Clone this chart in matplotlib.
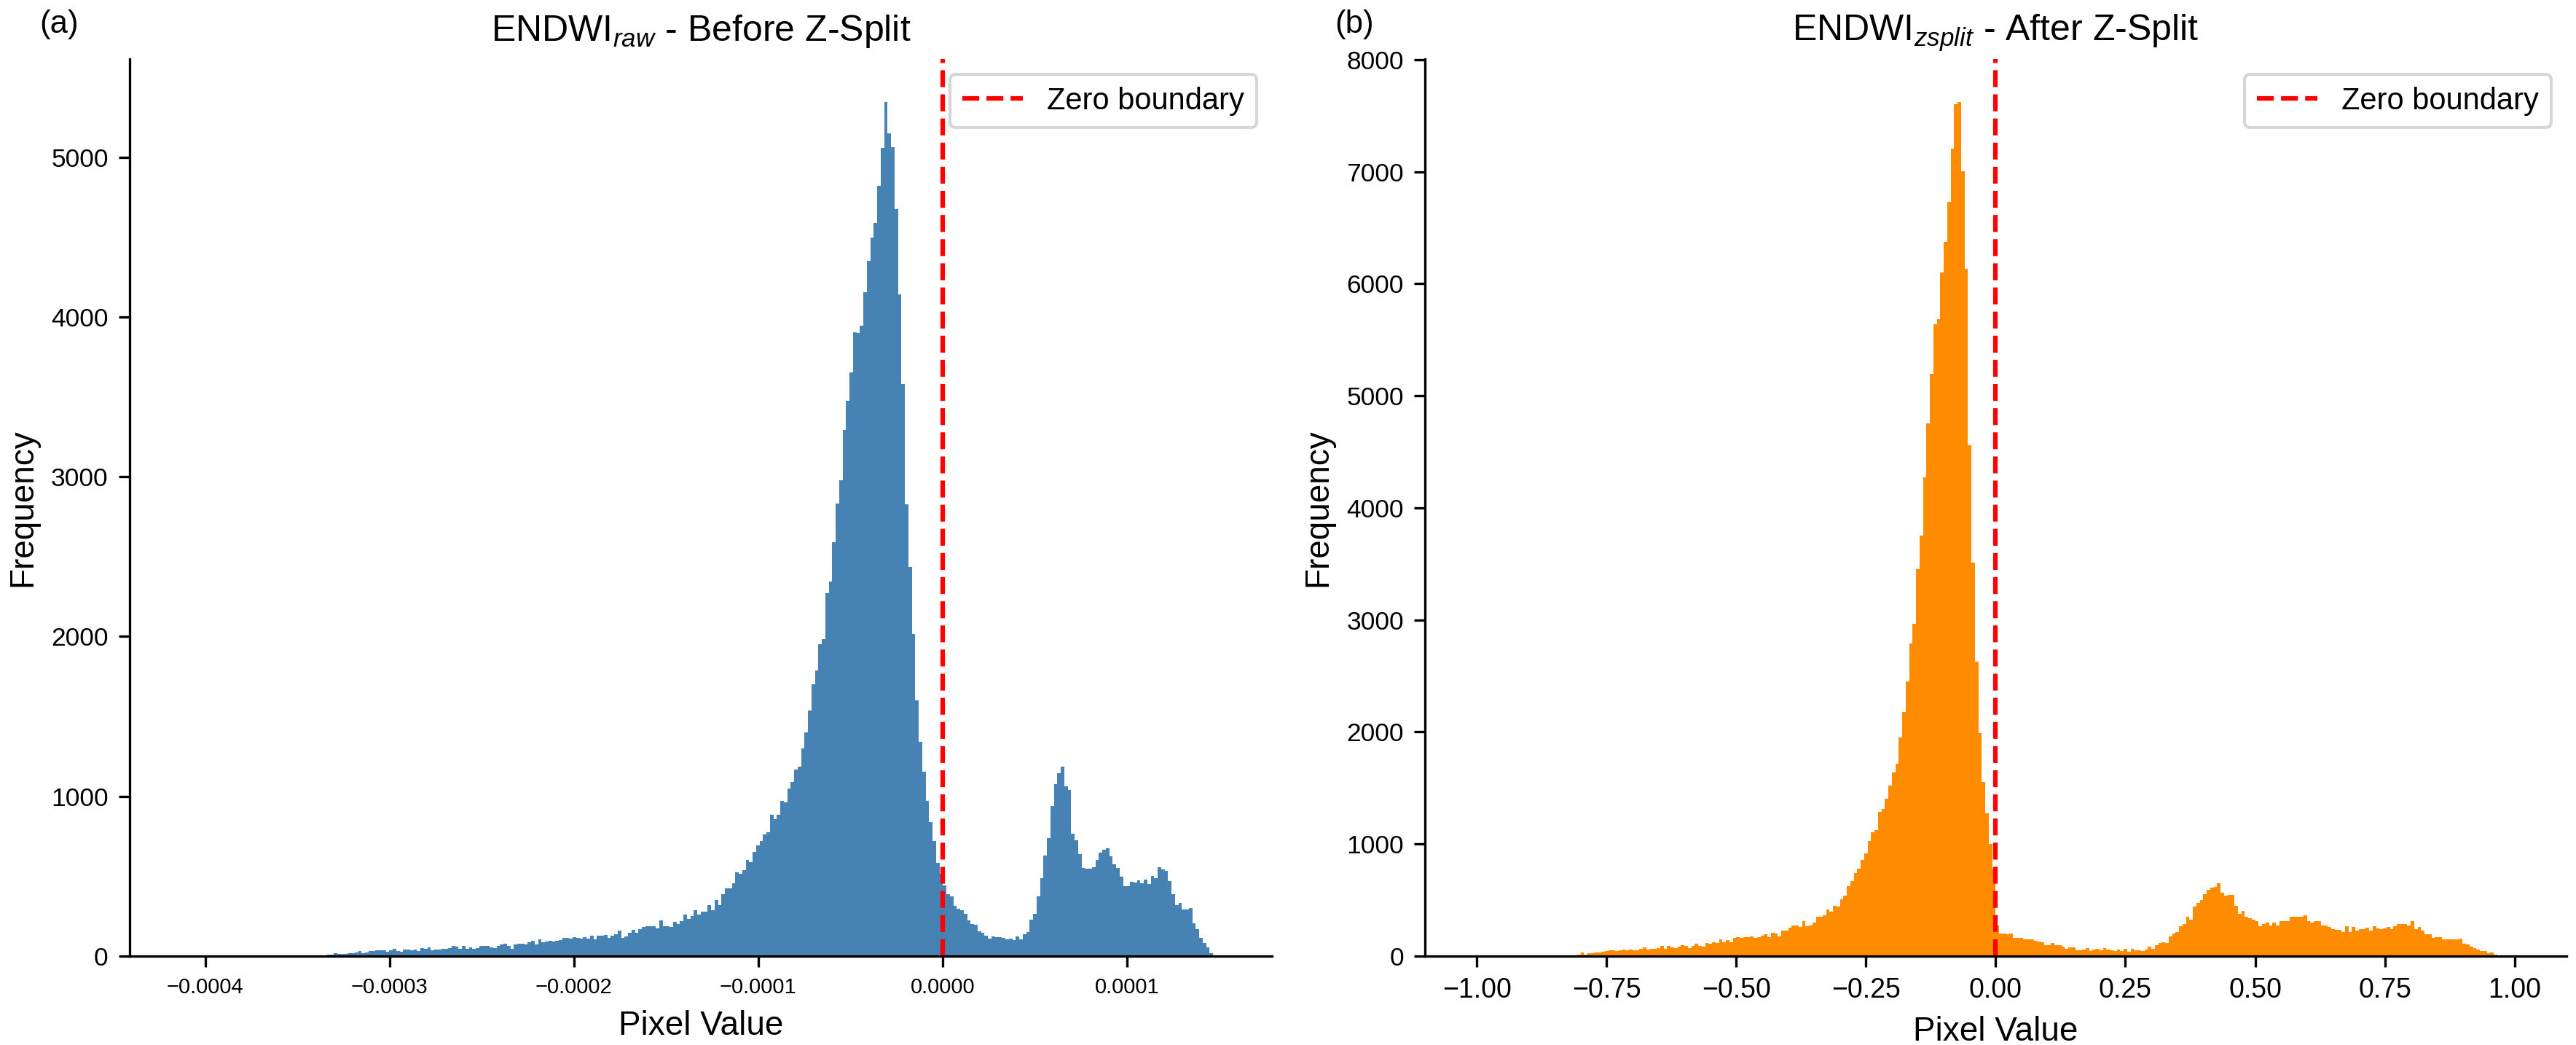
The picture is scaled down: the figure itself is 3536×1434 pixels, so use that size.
import numpy as np
import matplotlib
matplotlib.use("Agg")
import matplotlib.pyplot as plt

plt.rcParams['font.family'] = ['Liberation Sans', 'DejaVu Sans']
plt.rcParams['mathtext.fontset'] = 'custom'
plt.rcParams['mathtext.rm'] = 'Liberation Sans'
plt.rcParams['mathtext.it'] = 'Liberation Sans:italic'

# histogram bins (300 equal bins over the value range)
n_bins = 300
raw_range = (-4.128e-4, 1.505e-4)
zsplit_range = (-1.0, 1.0)

# counts per bin
raw_counts = [
    1, 0, 0, 0, 0, 0, 0, 0, 0, 0,
    0, 0, 0, 0, 0, 0, 0, 0, 0, 0,
    0, 0, 0, 0, 0, 0, 0, 0, 0, 0,
    0, 0, 0, 0, 0, 0, 0, 0, 2, 3,
    3, 3, 8, 8, 17, 12, 12, 12, 17, 17,
    21, 30, 17, 21, 30, 30, 35, 35, 35, 26,
    35, 44, 30, 26, 40, 40, 35, 40, 30, 49,
    44, 53, 35, 40, 40, 44, 44, 49, 62, 58,
    44, 62, 44, 53, 44, 49, 62, 62, 62, 53,
    49, 62, 71, 76, 62, 44, 71, 76, 76, 71,
    85, 94, 71, 103, 85, 90, 94, 90, 94, 99,
    112, 112, 108, 117, 112, 108, 117, 108, 126, 103,
    126, 126, 131, 112, 126, 135, 158, 112, 122, 144,
    163, 144, 167, 181, 185, 185, 185, 171, 223, 185,
    188, 181, 213, 202, 220, 262, 234, 251, 286, 258,
    279, 279, 321, 286, 352, 321, 387, 426, 426, 457,
    523, 516, 537, 604, 590, 653, 694, 722, 761, 775,
    886, 858, 886, 970, 960, 1050, 1089, 1169, 1187, 1298,
    1399, 1536, 1703, 1787, 1954, 1986, 2269, 2342, 2590, 2834,
    2977, 3291, 3476, 3651, 3905, 3898, 3944, 4157, 4349, 4499,
    4586, 4820, 5057, 5347, 5151, 5061, 4673, 4143, 3581, 2827,
    2436, 2014, 1602, 1340, 1152, 970, 841, 722, 583, 516,
    441, 386, 372, 313, 295, 286, 263, 222, 199, 195,
    154, 144, 126, 108, 122, 117, 117, 112, 103, 108,
    99, 122, 103, 135, 149, 226, 263, 372, 486, 628,
    737, 938, 1075, 1143, 1184, 1061, 1038, 765, 724, 637,
    550, 546, 546, 555, 600, 646, 664, 673, 623, 573,
    550, 496, 436, 436, 464, 459, 473, 454, 477, 450,
    500, 486, 555, 541, 534, 468, 386, 318, 331, 290,
    290, 299, 204, 167, 112, 81, 53, 17, 3, 1,
]

zsplit_counts = [
    0, 0, 0, 0, 0, 0, 0, 0, 0, 0,
    0, 0, 0, 0, 0, 0, 0, 0, 0, 0,
    0, 0, 0, 0, 0, 0, 0, 0, 4, 11,
    30, 11, 24, 24, 30, 30, 37, 43, 50, 50,
    43, 50, 56, 50, 56, 50, 50, 63, 76, 56,
    63, 63, 69, 89, 63, 89, 76, 69, 82, 95,
    89, 69, 89, 108, 89, 82, 114, 108, 121, 114,
    147, 121, 140, 121, 160, 166, 160, 166, 166, 173,
    160, 166, 179, 192, 166, 205, 199, 173, 225, 225,
    251, 270, 276, 257, 315, 264, 270, 302, 348, 354,
    367, 419, 397, 447, 441, 508, 541, 623, 668, 739,
    778, 861, 916, 1026, 1103, 1125, 1285, 1313, 1407, 1523,
    1639, 1716, 1953, 2179, 2455, 2792, 2968, 3454, 3752, 4270,
    4756, 5197, 5638, 5683, 6102, 6372, 6731, 7205, 7600, 7625,
    7007, 6135, 4557, 3514, 2626, 1992, 1556, 1274, 999, 772,
    274, 199, 199, 194, 199, 160, 160, 160, 147, 147,
    147, 134, 127, 121, 95, 95, 114, 95, 95, 82,
    63, 76, 76, 50, 50, 56, 69, 43, 56, 63,
    50, 69, 56, 50, 43, 56, 43, 63, 37, 63,
    50, 50, 43, 56, 82, 63, 95, 114, 121, 114,
    173, 199, 212, 264, 289, 354, 328, 445, 477, 503,
    555, 594, 613, 620, 652, 568, 542, 549, 549, 451,
    380, 406, 348, 341, 328, 315, 264, 283, 296, 276,
    296, 270, 309, 315, 315, 354, 354, 348, 348, 361,
    315, 296, 315, 309, 276, 270, 257, 238, 231, 231,
    212, 264, 212, 257, 225, 238, 238, 251, 225, 264,
    244, 238, 244, 257, 238, 264, 289, 283, 283, 276,
    315, 238, 257, 225, 192, 192, 160, 166, 166, 147,
    147, 147, 147, 147, 153, 108, 102, 82, 69, 56,
    43, 43, 24, 30, 11, 3, 1, 0, 0, 0,
]

panels = [
    ("(a)", r"ENDWI$_{raw}$ - Before Z-Split", raw_range, raw_counts, "steelblue", 7),
    ("(b)", r"ENDWI$_{zsplit}$ - After Z-Split", zsplit_range, zsplit_counts, "darkorange", 9),
]

fig = plt.figure(figsize=(3537 / 300, 1434 / 300), dpi=300)
ax_pos = [[0.0503, 0.0851, 0.4433, 0.8584], [0.553, 0.0851, 0.4430, 0.8584]]

for pos, (tag, title, rng, counts, color, xtick_size) in zip(ax_pos, panels):
    ax = fig.add_axes(pos)
    edges = np.linspace(rng[0], rng[1], n_bins + 1)
    ax.hist(edges[:-1], bins=edges, weights=counts, color=color)
    ax.axvline(0, color="red", linestyle="--", linewidth=1.5, label="Zero boundary")
    ax.set_title(title, fontsize=12)
    ax.set_xlabel("Pixel Value", fontsize=11)
    ax.set_ylabel("Frequency", fontsize=11)
    ax.tick_params(axis="x", labelsize=xtick_size)
    ax.tick_params(axis="y", labelsize=8.5)
    ax.legend(loc="upper right", fontsize=10)
    ax.spines["top"].set_visible(False)
    ax.spines["right"].set_visible(False)
    ax.text(-0.079, 1.055, tag, transform=ax.transAxes, fontsize=10.5,
            ha="left", va="top")

fig.savefig("out.png", dpi=300)
